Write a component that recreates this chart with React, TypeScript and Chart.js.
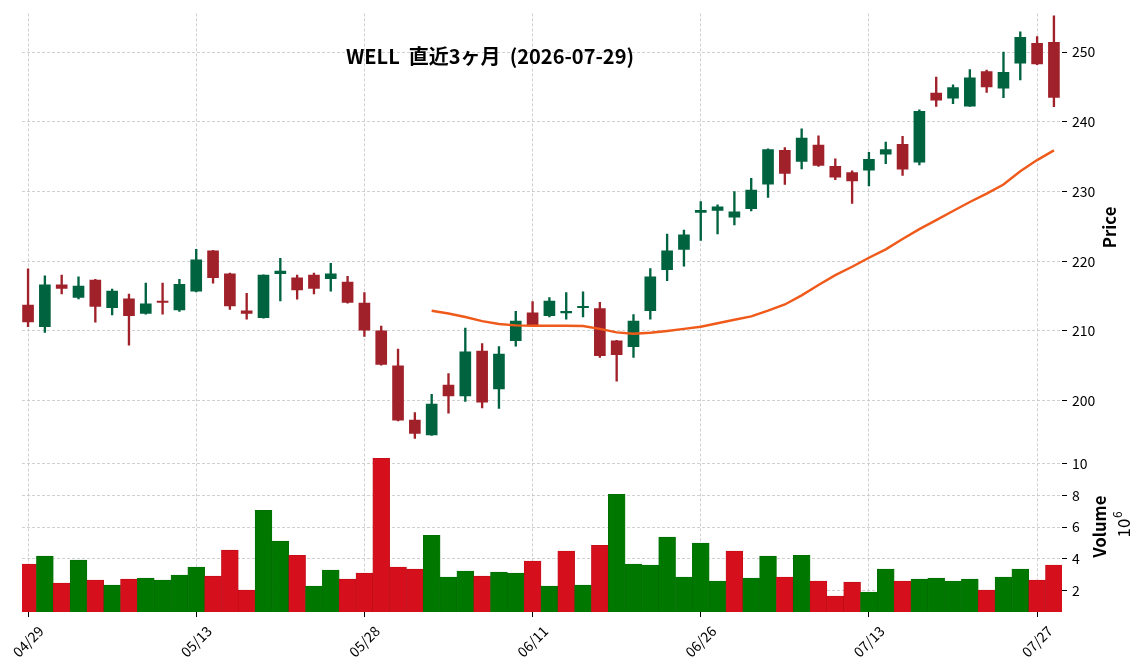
import { useEffect, useRef } from "react";
import { Chart, registerables } from "chart.js";

Chart.register(...registerables);

// ---------------- data ----------------
const dates = [
  "04/29", "04/30", "05/01", "05/04", "05/05", "05/06", "05/07", "05/08", "05/11", "05/12",
  "05/13", "05/14", "05/15", "05/18", "05/19", "05/20", "05/21", "05/22", "05/26", "05/27",
  "05/28", "05/29", "06/01", "06/02", "06/03", "06/04", "06/05", "06/08", "06/09", "06/10",
  "06/11", "06/12", "06/15", "06/16", "06/17", "06/18", "06/22", "06/23", "06/24", "06/25",
  "06/26", "06/29", "06/30", "07/01", "07/02", "07/06", "07/07", "07/08", "07/09", "07/10",
  "07/13", "07/14", "07/15", "07/16", "07/17", "07/20", "07/21", "07/22", "07/23", "07/24",
  "07/27", "07/28",
];

const opens = [
  213.7, 210.6, 216.6, 214.8, 217.3, 213.35, 214.6, 212.5, 214.3, 213.0,
  215.7, 221.5, 218.2, 212.9, 211.9, 218.2, 217.6, 218.0, 217.5, 217.0,
  214.0, 210.0, 205.0, 197.2, 195.1, 202.25, 200.7, 207.1, 201.7, 208.6,
  212.6, 212.2, 212.6, 213.35, 213.2, 208.6, 207.75, 212.9, 218.8, 221.7,
  227.0, 227.3, 226.3, 227.55, 231.05, 235.9, 234.3, 236.65, 233.6, 232.7,
  233.05, 235.35, 236.75, 234.2, 244.1, 243.4, 242.25, 247.2, 244.8, 248.4,
  251.25, 251.4,
];
const highs = [
  218.9, 217.9, 218.0, 217.75, 217.4, 216.0, 215.3, 216.85, 216.85, 217.4,
  221.7, 221.55, 218.3, 215.4, 218.05, 220.4, 218.0, 218.3, 219.7, 217.85,
  215.5, 210.7, 207.4, 198.3, 200.9, 203.9, 210.4, 208.2, 207.75, 212.8,
  214.2, 214.8, 215.5, 215.6, 214.1, 208.65, 212.35, 218.95, 223.9, 224.45,
  228.55, 228.1, 230.0, 231.9, 236.1, 236.3, 239.0, 238.0, 234.7, 232.95,
  235.6, 237.1, 237.9, 241.7, 246.4, 245.3, 247.5, 247.4, 250.0, 252.9,
  252.2, 255.2,
];
const lows = [
  210.6, 209.8, 215.3, 214.6, 211.25, 212.3, 207.95, 212.4, 212.4, 212.8,
  215.6, 216.85, 213.1, 211.7, 211.85, 214.3, 214.55, 215.3, 215.7, 214.0,
  209.2, 205.1, 197.1, 194.6, 195.0, 198.2, 199.9, 198.95, 198.9, 207.8,
  210.8, 212.0, 211.7, 212.0, 206.2, 202.8, 206.2, 211.7, 217.2, 219.3,
  223.0, 223.9, 225.2, 227.2, 229.15, 231.0, 233.25, 233.6, 231.7, 228.3,
  230.8, 234.0, 232.3, 233.8, 242.2, 242.6, 242.2, 244.2, 243.45, 246.0,
  248.2, 242.15,
];
const closes = [
  211.3, 216.6, 216.1, 216.45, 213.5, 215.7, 212.2, 213.9, 214.1, 216.7,
  220.2, 217.65, 213.6, 212.5, 218.0, 218.6, 215.9, 216.1, 218.2, 214.1,
  210.1, 205.2, 197.2, 195.3, 199.5, 200.7, 207.0, 199.8, 206.7, 211.4,
  210.9, 214.3, 212.8, 213.45, 206.45, 206.6, 211.4, 217.75, 221.5, 223.8,
  227.3, 227.8, 227.1, 230.2, 236.0, 232.6, 237.65, 233.75, 232.05, 231.5,
  234.6, 236.0, 233.2, 241.5, 243.1, 244.9, 246.3, 245.0, 247.1, 252.1,
  248.3, 243.5,
];
// volume in millions of shares
const volumes = [
  3.66, 4.16, 2.46, 3.91, 2.65, 2.33, 2.71, 2.78, 2.65, 2.97,
  3.47, 2.90, 4.54, 2.02, 7.06, 5.11, 4.22, 2.27, 3.28, 2.71,
  3.09, 10.34, 3.47, 3.34, 5.48, 2.84, 3.22, 2.90, 3.15, 3.09,
  3.85, 2.27, 4.48, 2.33, 4.85, 8.07, 3.66, 3.60, 5.36, 2.84,
  4.98, 2.59, 4.48, 2.78, 4.16, 2.84, 4.22, 2.59, 1.64, 2.52,
  1.89, 3.34, 2.59, 2.71, 2.78, 2.59, 2.71, 2.02, 2.84, 3.34,
  2.65, 3.60,
];
// 25-day moving average (starts at the 25th session)
const ma25 = [
  null, null, null, null, null, null, null, null, null, null,
  null, null, null, null, null, null, null, null, null, null,
  null, null, null, null, 212.9, 212.5, 212.0, 211.4, 211.0, 210.8,
  210.75, 210.75, 210.75, 210.7, 210.3, 209.8, 209.6, 209.75, 210.0, 210.3,
  210.6, 211.1, 211.6, 212.1, 212.9, 213.8, 215.1, 216.6, 218.0, 219.2,
  220.5, 221.7, 223.2, 224.6, 225.9, 227.2, 228.5, 229.7, 231.0, 232.9,
  234.5, 235.9,
];

const priceTicks = [200, 210, 220, 230, 240, 250];
const volumeTicks = [2, 4, 6, 8, 10];
const dateTickIndices = [0, 10, 20, 30, 40, 50, 60];
const chartTitle = "WELL  直近3ヶ月  (2026-07-29)";

// ---------------- styles ----------------
const FONT = '"Noto Sans CJK JP", "Noto Sans", sans-serif';
const CANDLE_UP = "#006340";
const CANDLE_DOWN = "#a0212a";
const VOL_UP = "#007800";
const VOL_DOWN = "#d50f1b";
const VOL_UP_EDGE = "#006a00";
const VOL_DOWN_EDGE = "#b80c17";
const MA_COLOR = "#ef5a1a";
const GRID_COLOR = "#c4c4c4";

const overlayPlugin = {
  id: "overlayText",
  afterDraw(chart: any) {
    const { ctx, chartArea, scales } = chart;
    const xs = scales.x;
    const yP = scales.yP;
    const yV = scales.yV;
    ctx.save();
    ctx.fillStyle = "#000";
    ctx.textAlign = "center";
    ctx.textBaseline = "middle";

    // x tick labels, rotated 45°, centered on the tick
    ctx.font = `14px ${FONT}`;
    for (const i of dateTickIndices) {
      const px = xs.getPixelForValue(i);
      ctx.save();
      ctx.translate(px, chartArea.bottom + 29.5);
      ctx.rotate(-Math.PI / 4);
      ctx.fillText(dates[i], 0, 0);
      ctx.restore();
    }

    // title
    ctx.font = `bold 20px ${FONT}`;
    ctx.fillText(chartTitle, chartArea.left + chartArea.width * 0.45, chartArea.top + 43.5);

    // Price axis title
    ctx.font = `bold 16.7px ${FONT}`;
    ctx.save();
    ctx.translate(yP.left + 48, (yP.top + yP.bottom) / 2);
    ctx.rotate(-Math.PI / 2);
    ctx.fillText("Price", 0, 0);
    ctx.restore();

    // Volume axis title
    ctx.save();
    ctx.translate(yV.left + 38, (yV.top + yV.bottom) / 2);
    ctx.rotate(-Math.PI / 2);
    ctx.fillText("Volume", 0, 0);
    ctx.restore();

    // 10^6 multiplier
    ctx.save();
    ctx.translate(yV.left + 62, (yV.top + yV.bottom) / 2 - 2);
    ctx.rotate(-Math.PI / 2);
    ctx.textAlign = "left";
    ctx.font = `17px ${FONT}`;
    const w1 = ctx.measureText("10").width;
    ctx.font = `12px ${FONT}`;
    const w2 = ctx.measureText("6").width;
    const start = -(w1 + w2) / 2;
    ctx.font = `17px ${FONT}`;
    ctx.fillText("10", start, 0);
    ctx.font = `12px ${FONT}`;
    ctx.fillText("6", start + w1 + 0.5, -7);
    ctx.restore();

    ctx.restore();
  },
};

export default function App() {
  const canvasRef = useRef<HTMLCanvasElement | null>(null);

  useEffect(() => {
    const canvas = canvasRef.current;
    if (!canvas) return;

    const idx = dates.map((_, i) => i);
    const candleColors = idx.map((i) => (closes[i] >= opens[i] ? CANDLE_UP : CANDLE_DOWN));
    const volColors = idx.map((i) =>
      i === 0 ? (closes[i] >= opens[i] ? VOL_UP : VOL_DOWN) : closes[i] >= closes[i - 1] ? VOL_UP : VOL_DOWN
    );
    const volEdges = volColors.map((c) => (c === VOL_UP ? VOL_UP_EDGE : VOL_DOWN_EDGE));

    const gridCommon = {
      color: GRID_COLOR,
      lineWidth: 0.8,
      tickColor: "#000",
      tickWidth: 1,
      tickLength: 5,
    };

    const chart = new Chart(canvas, {
      type: "bar",
      data: {
        datasets: [
          {
            type: "line",
            label: "MA25",
            data: idx
              .filter((i) => ma25[i] !== null)
              .map((i) => ({ x: i, y: ma25[i] as number })),
            borderColor: MA_COLOR,
            borderWidth: 2.4,
            pointRadius: 0,
            tension: 0,
            yAxisID: "yP",
            xAxisID: "x",
          } as any,
          {
            type: "bar",
            label: "body",
            data: idx.map((i) => ({ x: i, y: [opens[i], closes[i]] })),
            backgroundColor: candleColors,
            borderWidth: 0,
            barThickness: 11,
            minBarLength: 1.2,
            grouped: false,
            yAxisID: "yP",
            xAxisID: "x",
          } as any,
          {
            type: "bar",
            label: "wick",
            data: idx.map((i) => ({ x: i, y: [lows[i], highs[i]] })),
            backgroundColor: candleColors,
            borderWidth: 0,
            barThickness: 1.7,
            grouped: false,
            yAxisID: "yP",
            xAxisID: "x",
          } as any,
          {
            type: "bar",
            label: "Volume",
            data: idx.map((i) => ({ x: i, y: volumes[i] })),
            backgroundColor: volColors,
            borderColor: volEdges,
            borderWidth: 0.6,
            barPercentage: 1,
            categoryPercentage: 1,
            grouped: false,
            yAxisID: "yV",
            xAxisID: "x",
          } as any,
        ],
      },
      options: {
        animation: false,
        responsive: false,
        devicePixelRatio: 1,
        layout: { autoPadding: false, padding: { left: 22, top: 12, right: 0, bottom: 0 } },
        plugins: {
          legend: { display: false },
          tooltip: { enabled: false },
          title: { display: false },
        },
        scales: {
          x: {
            type: "linear",
            position: "bottom",
            min: -0.36,
            max: 61.48,
            offset: false,
            grid: { ...gridCommon, offset: false },
            border: { display: false, dash: [3, 2] },
            ticks: { display: false },
            afterBuildTicks: (s: any) => {
              s.ticks = dateTickIndices.map((v) => ({ value: v }));
            },
            afterFit: (s: any) => {
              s.height = 58;
            },
          },
          yP: {
            type: "linear",
            position: "right",
            stack: "panels",
            stackWeight: 429,
            min: 194.16,
            max: 255.54,
            grid: gridCommon,
            border: { display: false, dash: [3, 2] },
            ticks: {
              color: "#000",
              padding: 5,
              font: { family: FONT, size: 14 },
            },
            afterBuildTicks: (s: any) => {
              s.ticks = priceTicks.map((v) => ({ value: v }));
            },
            afterFit: (s: any) => {
              s.width = 82;
            },
          },
          yV: {
            type: "linear",
            position: "right",
            stack: "panels",
            stackWeight: 171,
            min: 0.633,
            max: 11.41,
            grid: gridCommon,
            border: { display: false, dash: [3, 2] },
            ticks: {
              color: "#000",
              padding: 5,
              font: { family: FONT, size: 14 },
            },
            afterBuildTicks: (s: any) => {
              s.ticks = volumeTicks.map((v) => ({ value: v }));
            },
            afterFit: (s: any) => {
              s.width = 82;
            },
          },
        },
      } as any,
      plugins: [overlayPlugin],
    });

    return () => {
      chart.destroy();
    };
  }, []);

  return (
    <div
      style={{
        position: "fixed",
        left: 0,
        top: 0,
        width: 1144,
        height: 670,
        background: "#fff",
      }}
    >
      <canvas ref={canvasRef} width={1144} height={670} style={{ display: "block" }} />
    </div>
  );
}
